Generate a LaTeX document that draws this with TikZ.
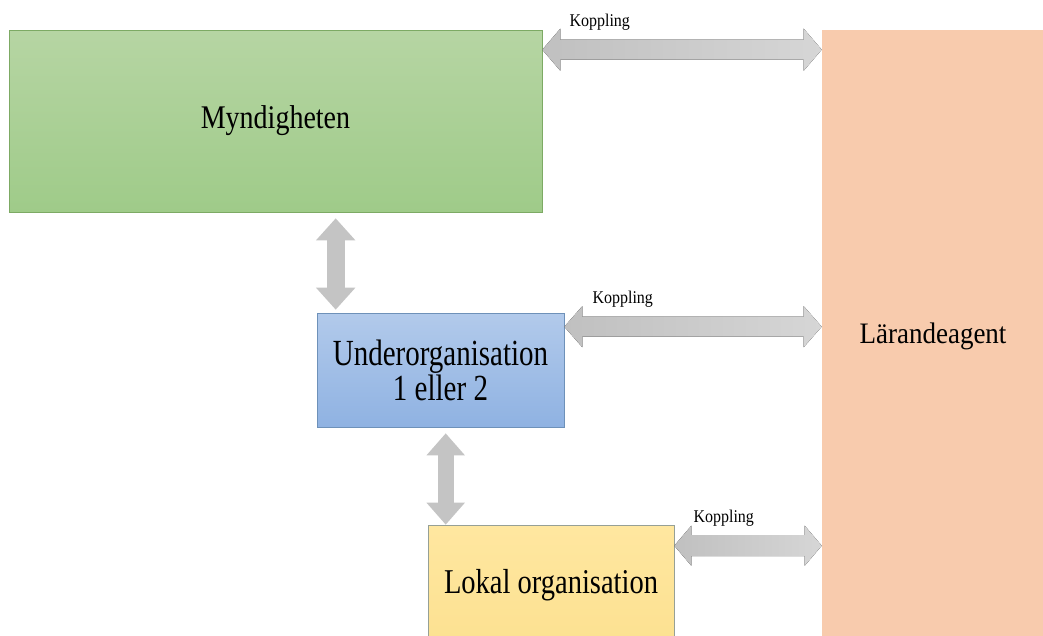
\documentclass[tikz,border=0pt]{standalone}
\usepackage{fontspec}
\setmainfont{Liberation Serif}
\usetikzlibrary{arrows.meta,calc}
\definecolor{gtop}{RGB}{182,213,163}
\definecolor{gbot}{RGB}{159,203,137}
\definecolor{gbrd}{RGB}{125,170,100}
\definecolor{btop}{RGB}{178,202,235}
\definecolor{bbot}{RGB}{143,178,226}
\definecolor{bbrd}{RGB}{110,145,185}
\definecolor{ytop}{RGB}{255,231,160}
\definecolor{ybot}{RGB}{252,225,145}
\definecolor{ybrd}{RGB}{150,160,150}
\definecolor{orng}{RGB}{248,203,173}
\definecolor{arr}{RGB}{196,196,196}
\definecolor{arrL}{RGB}{192,192,192}
\definecolor{arrR}{RGB}{214,214,214}
% horizontal double arrow between two named points: #1 left tip, #2 right tip, #3 half shaft, #4 half head, #5 head length
\newcommand\hkarrow[5]{%
  \fill[left color=arrL, right color=arrR] (#1) -- ($(#1)+(#5,-#4)$) -- ($(#1)+(#5,-#3)$)
    -- ($(#2)+(-#5,-#3)$) -- ($(#2)+(-#5,-#4)$) -- (#2) -- ($(#2)+(-#5,#4)$)
    -- ($(#2)+(-#5,#3)$) -- ($(#1)+(#5,#3)$) -- ($(#1)+(#5,#4)$) -- cycle;}
\begin{document}
\begin{tikzpicture}[x=1pt,y=-1pt,
  box/.style={draw, line width=0.6pt, inner sep=0pt, align=center, text=black},
  vk/.style={arr, line width=18pt, {Triangle[width=38pt,length=22pt]}-{Triangle[width=38pt,length=22pt]}},
  lab/.style={anchor=west, inner sep=0pt, font=\fontsize{16}{18}\selectfont}]
\useasboundingbox (0,0) rectangle (1043,635);
\node[box, draw=gbrd, top color=gtop, bottom color=gbot, minimum width=533pt, minimum height=182pt,
  font=\fontsize{28}{32}\selectfont] (my) at (275.5,121) {\scalebox{1}[1.18]{Myndigheten}};
\node[box, draw=bbrd, top color=btop, bottom color=bbot, minimum width=247pt, minimum height=114pt,
  font=\fontsize{29}{35}\selectfont] (un) at (440.5,370) {\scalebox{1}[1.27]{Underorganisation}\\\scalebox{1}[1.27]{1 eller 2}};
\node[box, draw=ybrd, top color=ytop, bottom color=ybot, minimum width=246pt, minimum height=120pt,
  font=\fontsize{28.5}{34}\selectfont] (lo) at (551,585) {\scalebox{1}[1.22]{Lokal organisation}};
\node[box, draw=none, fill=orng, minimum width=222pt, minimum height=612pt,
  font=\fontsize{27}{31}\selectfont] (la) at (933,336) {\scalebox{1}[1.1]{Lärandeagent}};
% horizontal couplings
\coordinate (t1) at ([yshift=-20pt]my.north east);
\coordinate (t2) at (t1 -| la.west);
\hkarrow{t1}{t2}{10}{21}{18}
\node[lab] (k1) at ([xshift=27pt,yshift=27pt]t1) {\scalebox{1}[1.12]{Koppling}};
\coordinate (m1) at ([yshift=-14pt]un.north east);
\coordinate (m2) at (m1 -| la.west);
\hkarrow{m1}{m2}{10}{20.5}{18}
\node[lab] (k2) at ([xshift=28pt,yshift=27pt]m1) {\scalebox{1}[1.12]{Koppling}};
\coordinate (b1) at ([yshift=-21pt]lo.north east);
\coordinate (b2) at (b1 -| la.west);
\hkarrow{b1}{b2}{10.5}{20}{17}
\node[lab] (k3) at ([xshift=19pt,yshift=27pt]b1) {\scalebox{1}[1.12]{Koppling}};
% vertical couplings
\coordinate (v1b) at ([xshift=19pt,yshift=3pt]un.north west);
\coordinate (v1s) at (v1b |- my.south);
\draw[vk] ([yshift=-6pt]v1s) -- (v1b);
\coordinate (v2b) at ([xshift=18pt]lo.north west);
\coordinate (v2s) at (v2b |- un.south);
\draw[vk, line width=16pt, {Triangle[width=37pt,length=22pt]}-{Triangle[width=37pt,length=22pt]}] ([yshift=-6pt]v2s) -- (v2b);
\end{tikzpicture}
\end{document}
